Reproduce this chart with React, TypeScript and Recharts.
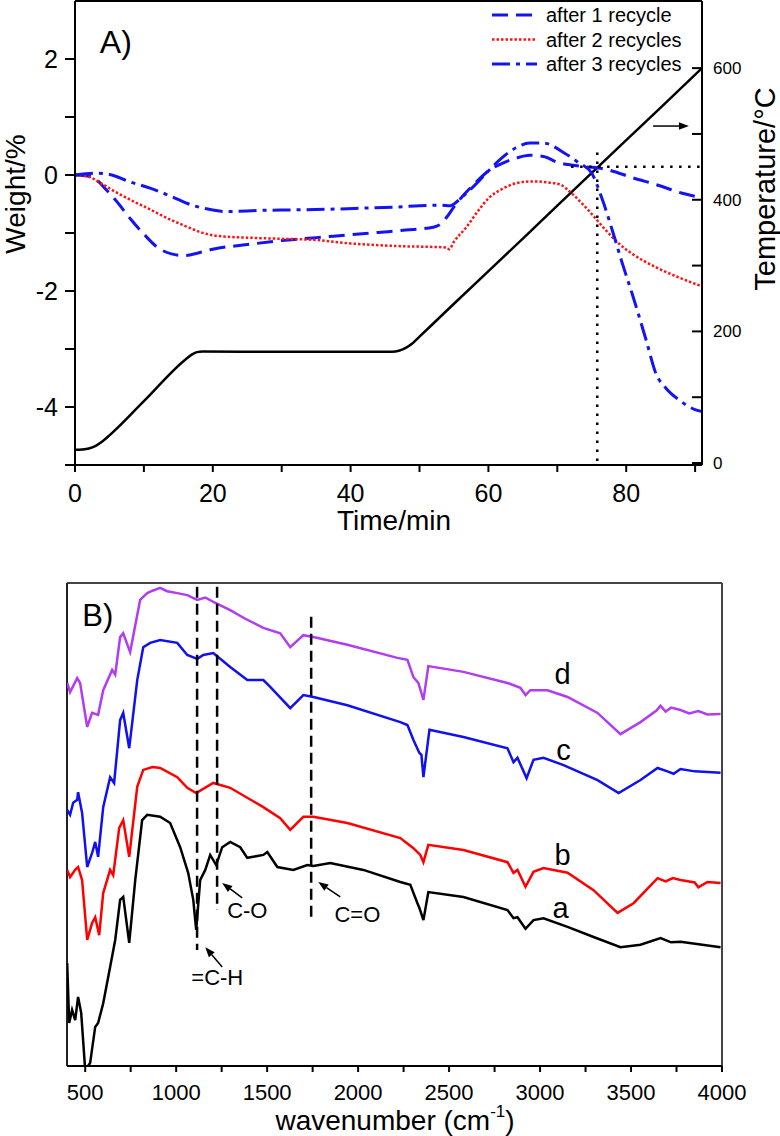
import React from 'react';
import { LineChart, Line, XAxis, YAxis, ReferenceLine, ReferenceDot, Legend, Label } from 'recharts';

const FONT = '"Liberation Sans", Arial, Helvetica, sans-serif';

// ---------------- Panel A data ----------------
const tempTime = [0, 1, 2, 3, 4, 5, 10, 16, 17, 17.7, 18.5, 30, 46, 47, 48, 49, 50, 55, 65, 75, 85, 91];
const tempValue = [20, 20.5, 22, 26, 33, 42, 94, 157, 165, 168.5, 169.5, 169, 169, 170.5, 175, 182, 192, 242, 341, 441, 540, 600];

const r1Time = [0, 2, 3, 4.5, 6, 8, 10, 12, 14, 16, 18, 20, 25, 30, 35, 40, 44, 48, 52, 53, 54, 55, 56, 58, 60, 62, 64, 66, 68, 70, 73.6, 77, 81, 85, 88, 91];
const r1Weight = [0, -0.02, -0.07, -0.25, -0.45, -0.75, -1.02, -1.25, -1.36, -1.39, -1.34, -1.28, -1.2, -1.13, -1.08, -1.03, -0.99, -0.95, -0.9, -0.85, -0.72, -0.55, -0.4, -0.15, 0.07, 0.2, 0.29, 0.34, 0.32, 0.22, 0.15, 0.1, -0.05, -0.19, -0.31, -0.39];

const r2Time = [0, 2, 3.6, 6, 8.4, 11, 13.3, 16, 18.1, 20.6, 25, 30, 35, 40, 44, 48, 52, 53.9, 54.3, 55, 56.8, 58.5, 60.1, 62, 63.5, 65, 66.7, 68, 70.3, 72.2, 74.6, 77.1, 79, 80.9, 84.3, 87.7, 91];
const r2Weight = [0, -0.03, -0.13, -0.3, -0.45, -0.6, -0.74, -0.88, -0.98, -1.05, -1.08, -1.1, -1.12, -1.18, -1.21, -1.23, -1.24, -1.25, -1.28, -1.15, -0.9, -0.62, -0.39, -0.24, -0.16, -0.12, -0.11, -0.12, -0.16, -0.33, -0.62, -0.96, -1.19, -1.36, -1.59, -1.77, -1.92];

const r3Time = [0, 1.5, 3, 5, 8, 11, 14, 17, 19, 22, 27, 32, 37, 42, 47, 50, 53, 54.5, 55, 56, 58, 60, 62, 64, 66, 68, 71, 73, 75, 76.5, 78, 79.4, 81, 82.9, 84.3, 85.8, 87.7, 90.1, 91];
const r3Weight = [0, 0.02, 0.03, 0.01, -0.12, -0.23, -0.37, -0.52, -0.58, -0.63, -0.61, -0.6, -0.59, -0.57, -0.55, -0.53, -0.52, -0.53, -0.5, -0.4, -0.18, 0.07, 0.3, 0.47, 0.55, 0.55, 0.38, 0.22, 0.03, -0.41, -0.96, -1.51, -2.1, -2.85, -3.42, -3.68, -3.88, -4.05, -4.08];

const timeTicks = [0, 10, 20, 30, 40, 50, 60, 70, 80, 90];
const weightTicks = [-5, -4, -3, -2, -1, 0, 1, 2];
const tempTicks = [0, 100, 200, 300, 400, 500, 600];
const legendLabels = ['after 1 recycle', 'after 2 recycles', 'after 3 recycles'];

// ---------------- Panel B data ----------------
const wnD = [401, 417, 456, 472, 511, 538, 571, 599, 648, 665, 692, 709, 747, 802, 841, 870, 912, 950, 1006, 1061, 1116, 1160, 1204, 1297, 1380, 1479, 1572, 1627, 1699, 1754, 1941, 2216, 2271, 2304, 2331, 2359, 2386, 2579, 2821, 2892, 2920, 2947, 3041, 3151, 3316, 3442, 3552, 3640, 3662, 3690, 3720, 3772, 3820, 3870, 3920, 3992];
const absD = [79.3, 77.4, 80.3, 79.3, 70.2, 73.1, 72.7, 77.8, 82.0, 81.0, 88.8, 89.6, 85.7, 96.5, 97.9, 98.4, 99.0, 98.3, 97.9, 97.5, 96.5, 97.0, 96.1, 94.4, 92.6, 90.7, 89.6, 86.7, 89.2, 88.8, 87.2, 84.5, 84.1, 80.5, 79.3, 75.8, 82.8, 81.6, 79.3, 78.3, 76.8, 77.8, 77.8, 76.4, 73.1, 68.7, 71.2, 73.6, 74.6, 73.4, 74.2, 73.7, 73.0, 73.5, 72.8, 72.9];

const wnC = [401, 417, 434, 456, 461, 483, 511, 538, 555, 571, 599, 637, 659, 692, 709, 742, 786, 819, 857, 912, 1006, 1061, 1116, 1149, 1204, 1297, 1391, 1479, 1517, 1627, 1699, 1754, 1941, 2232, 2271, 2304, 2337, 2348, 2359, 2392, 2579, 2821, 2854, 2876, 2926, 2964, 3019, 3129, 3316, 3432, 3552, 3646, 3700, 3734, 3772, 3850, 3992];
const absC = [53.0, 52.0, 54.5, 55.1, 56.7, 52.4, 41.2, 44.1, 46.4, 43.3, 53.6, 59.8, 58.6, 71.6, 73.1, 65.8, 79.9, 86.7, 87.6, 88.2, 87.6, 85.1, 84.3, 85.1, 85.5, 82.6, 79.9, 79.9, 78.5, 74.1, 76.8, 76.4, 74.7, 71.2, 70.6, 67.5, 64.8, 64.4, 59.8, 69.6, 68.1, 65.8, 62.9, 63.8, 59.6, 63.4, 63.8, 62.3, 59.2, 56.5, 59.2, 61.7, 61.0, 60.5, 61.5, 61.0, 60.7];

const wnB = [401, 417, 445, 461, 483, 511, 538, 555, 577, 599, 637, 654, 687, 709, 742, 786, 819, 870, 912, 1006, 1061, 1110, 1204, 1297, 1479, 1572, 1627, 1699, 1754, 1941, 2232, 2304, 2342, 2359, 2386, 2579, 2821, 2854, 2876, 2920, 2964, 3019, 3151, 3294, 3426, 3514, 3646, 3690, 3730, 3772, 3850, 3870, 3920, 3992];
const absB = [40.6, 39.1, 40.6, 41.2, 38.5, 26.1, 29.6, 30.8, 27.1, 35.8, 40.6, 39.5, 49.3, 50.9, 43.3, 57.8, 61.3, 61.9, 61.7, 59.8, 57.6, 56.5, 58.6, 57.6, 53.6, 51.3, 48.9, 51.6, 51.6, 50.3, 47.2, 45.1, 43.7, 42.2, 45.8, 44.7, 42.2, 40.0, 40.6, 37.1, 40.2, 41.0, 40.0, 36.4, 31.7, 33.7, 38.9, 38.2, 38.9, 38.5, 38.0, 37.0, 38.1, 37.9];

const wnA = [401, 412, 428, 445, 461, 478, 500, 527, 555, 571, 599, 637, 665, 692, 709, 742, 775, 813, 841, 912, 967, 1022, 1066, 1094, 1110, 1132, 1160, 1187, 1220, 1253, 1297, 1352, 1391, 1479, 1501, 1556, 1644, 1721, 1754, 1847, 2029, 2232, 2287, 2326, 2337, 2359, 2386, 2579, 2821, 2854, 2876, 2920, 2964, 3019, 3151, 3294, 3442, 3552, 3662, 3720, 3772, 3992];
const absA = [21.3, 8.9, 11.6, 9.5, 14.3, 11.0, -0.8, 0.6, 8.1, 8.9, 13.0, 20.5, 26.1, 34.4, 35.0, 25.5, 38.5, 50.9, 52.0, 51.6, 50.3, 45.3, 40.0, 34.4, 28.2, 38.5, 40.6, 43.7, 41.6, 45.3, 46.4, 45.3, 43.1, 43.7, 44.3, 41.2, 40.6, 41.6, 41.4, 42.0, 40.6, 38.1, 37.5, 33.7, 32.7, 30.2, 36.0, 35.0, 32.3, 30.6, 30.8, 28.4, 30.2, 30.6, 28.8, 26.7, 24.6, 25.1, 26.5, 25.6, 25.7, 24.6];

const wnTicks = [500, 750, 1000, 1250, 1500, 1750, 2000, 2250, 2500, 2750, 3000, 3250, 3500, 3750, 4000];
const spectrumLabels = ['a', 'b', 'c', 'd'];

// ---------------- helpers ----------------
const zip = (xs: number[], ys: number[], kx: string, ky: string) =>
  xs.map((x, i) => ({ [kx]: x, [ky]: ys[i] }));

const BLUE = '#1414F2';
const RED = '#FF1414';

const seriesA = [
  { label: legendLabels[0], data: zip(r1Time, r1Weight, 't', 'w'), color: BLUE, dash: '16 8', width: 3 },
  { label: legendLabels[1], data: zip(r2Time, r2Weight, 't', 'w'), color: RED, dash: '2.5 2', width: 2.5 },
  { label: legendLabels[2], data: zip(r3Time, r3Weight, 't', 'w'), color: BLUE, dash: '18 6 4 6', width: 3 },
];
const tempData = zip(tempTime, tempValue, 't', 'T');

const spectra = [
  { label: spectrumLabels[0], data: zip(wnA, absA, 'wn', 'v'), color: '#000000' },
  { label: spectrumLabels[1], data: zip(wnB, absB, 'wn', 'v'), color: '#FF0000' },
  { label: spectrumLabels[2], data: zip(wnC, absC, 'wn', 'v'), color: '#1010F0' },
  { label: spectrumLabels[3], data: zip(wnD, absD, 'wn', 'v'), color: '#B23CF0' },
];

const textShape = (txt: string, size: number, anchor: string = 'start') => (p: any) => (
  <text x={p.cx} y={p.cy} fontSize={size} textAnchor={anchor} fontFamily={FONT} fill="#000">{txt}</text>
);

const arrowShape = (color: string, width: number) => (p: any) => {
  const { x1, y1, x2, y2 } = p;
  const dx = x2 - x1;
  const dy = y2 - y1;
  const len = Math.sqrt(dx * dx + dy * dy) || 1;
  const ux = dx / len;
  const uy = dy / len;
  const hl = 10;
  const hw = 3.8;
  const bx = x2 - ux * hl;
  const by = y2 - uy * hl;
  const pts = `${x2},${y2} ${bx - uy * hw},${by + ux * hw} ${bx + uy * hw},${by - ux * hw}`;
  return (
    <g>
      <line x1={x1} y1={y1} x2={bx} y2={by} stroke={color} strokeWidth={width} />
      <polygon points={pts} fill={color} />
    </g>
  );
};

const renderLegend = () => (
  <svg width={260} height={78} style={{ display: 'block', overflow: 'visible' }}>
    {seriesA.map((s, i) => {
      const cy = 14 + i * 24.5;
      return (
        <g key={s.label}>
          <line x1={7} x2={52} y1={cy} y2={cy} stroke={s.color} strokeWidth={s.width} strokeDasharray={s.dash} />
          <text x={61} y={cy + 7} fontSize={20} fontFamily={FONT} fill="#000">{s.label}</text>
        </g>
      );
    })}
  </svg>
);

const axisStroke = { stroke: '#000', strokeWidth: 2 };

export default function App() {
  return (
    <div style={{ position: 'absolute', left: 0, top: 0, width: 780, height: 1136, background: '#fff', fontFamily: FONT }}>
      {/* Panel A */}
      <div style={{ position: 'absolute', left: 0, top: 0 }}>
        <LineChart width={780} height={545} margin={{ top: 1, right: 8, bottom: 10, left: 15 }}>
          <XAxis
            dataKey="t"
            type="number"
            domain={[0, 91]}
            ticks={timeTicks}
            interval={0}
            allowDataOverflow
            tickFormatter={(v: number) => (v % 20 === 0 ? String(v) : '')}
            tick={{ fontSize: 25, fill: '#000', fontFamily: FONT }}
            tickSize={7}
            tickMargin={12}
            height={70}
            axisLine={axisStroke}
            tickLine={axisStroke}
          >
            <Label
              content={() => (
                <text x={394} y={530} textAnchor="middle" fontSize={28} fontFamily={FONT} fill="#000">Time/min</text>
              )}
            />
          </XAxis>
          <YAxis
            yAxisId="left"
            type="number"
            domain={[-5, 3]}
            ticks={weightTicks}
            interval={0}
            allowDataOverflow
            tickFormatter={(v: number) => (v % 2 === 0 ? String(v) : '')}
            tick={{ fontSize: 25, fill: '#000', fontFamily: FONT }}
            tickSize={10}
            tickMargin={7}
            width={60}
            axisLine={axisStroke}
            tickLine={axisStroke}
          >
            <Label
              content={() => (
                <text x={25} y={194} transform="rotate(-90 25 194)" textAnchor="middle" fontSize={28} fontFamily={FONT} fill="#000">Weight/%</text>
              )}
            />
          </YAxis>
          <YAxis
            yAxisId="right"
            orientation="right"
            type="number"
            domain={[-3, 702]}
            ticks={tempTicks}
            interval={0}
            allowDataOverflow
            tickFormatter={(v: number) => (v % 200 === 0 ? String(v) : '')}
            tick={{ fontSize: 17, fill: '#000', fontFamily: FONT }}
            tickSize={-10}
            tickMargin={21}
            width={70}
            axisLine={axisStroke}
            tickLine={axisStroke}
          >
            <Label
              content={() => (
                <text x={775} y={189} transform="rotate(-90 775 189)" textAnchor="middle" fontSize={29} fontFamily={FONT} fill="#000">Temperature/°C</text>
              )}
            />
          </YAxis>
          <ReferenceLine yAxisId="left" y={3} stroke="#000" strokeWidth={2} />
          <Legend
            layout="vertical"
            align="center"
            verticalAlign="middle"
            wrapperStyle={{ position: 'absolute', left: 485, top: 1, width: 260, height: 78 }}
            content={renderLegend}
          />
          <Line
            yAxisId="right"
            data={tempData}
            dataKey="T"
            type="monotone"
            stroke="#000"
            strokeWidth={2.5}
            dot={false}
            isAnimationActive={false}
            legendType="none"
          />
          {seriesA.map((s) => (
            <Line
              key={s.label}
              yAxisId="left"
              data={s.data}
              dataKey="w"
              name={s.label}
              type="monotone"
              stroke={s.color}
              strokeWidth={s.width}
              strokeDasharray={s.dash}
              dot={false}
              isAnimationActive={false}
            />
          ))}
          <ReferenceLine
            yAxisId="right"
            segment={[{ x: 75.8, y: 3 }, { x: 75.8, y: 480 }]}
            stroke="#000"
            strokeWidth={2.5}
            strokeDasharray="2.5 6.5"
          />
          <ReferenceLine
            yAxisId="right"
            segment={[{ x: 72, y: 450 }, { x: 91, y: 450 }]}
            stroke="#000"
            strokeWidth={2.5}
            strokeDasharray="2.5 6.5"
          />
          <ReferenceLine
            yAxisId="right"
            segment={[{ x: 83.9, y: 512 }, { x: 89.1, y: 512 }]}
            shape={arrowShape('#000', 1.5)}
          />
          <ReferenceDot yAxisId="left" x={3.6} y={2.1} r={0} shape={textShape('A)', 32)} />
        </LineChart>
      </div>

      {/* Panel B */}
      <div style={{ position: 'absolute', left: 0, top: 560 }}>
        <LineChart width={780} height={576} margin={{ top: 23, right: 58, bottom: 10, left: 67 }}>
          <XAxis
            dataKey="wn"
            type="number"
            domain={[400, 4000]}
            ticks={wnTicks}
            interval={0}
            allowDataOverflow
            tickFormatter={(v: number) => (v % 500 === 0 ? String(v) : '')}
            tick={{ fontSize: 22, fill: '#000', fontFamily: FONT }}
            tickSize={6}
            tickMargin={12}
            height={60}
            axisLine={axisStroke}
            tickLine={axisStroke}
          >
            <Label
              content={() => (
                <text x={395} y={570} textAnchor="middle" fontSize={28} fontFamily={FONT} fill="#000">
                  wavenumber (cm
                  <tspan dy={-13} fontSize={17}>-1</tspan>
                  <tspan dy={13}>)</tspan>
                </text>
              )}
            />
          </XAxis>
          <YAxis type="number" domain={[0, 100]} allowDataOverflow hide />
          <ReferenceLine y={100} stroke="#444" strokeWidth={2} />
          <ReferenceLine x={400} stroke="#222" strokeWidth={2} />
          <ReferenceLine x={4000} stroke="#444" strokeWidth={2} />
          {spectra.map((s) => (
            <Line
              key={s.label}
              data={s.data}
              dataKey="v"
              type="linear"
              stroke={s.color}
              strokeWidth={2.5}
              dot={false}
              isAnimationActive={false}
            />
          ))}
          <ReferenceLine segment={[{ x: 1115, y: 99.2 }, { x: 1115, y: 24.0 }]} stroke="#000" strokeWidth={2.5} strokeDasharray="11 6" />
          <ReferenceLine segment={[{ x: 1225, y: 99.2 }, { x: 1225, y: 32.3 }]} stroke="#000" strokeWidth={2.5} strokeDasharray="11 6" />
          <ReferenceLine segment={[{ x: 1742, y: 93 }, { x: 1742, y: 30.8 }]} stroke="#000" strokeWidth={2.5} strokeDasharray="11 6" />
          <ReferenceLine segment={[{ x: 1253, y: 20.5 }, { x: 1160, y: 24.6 }]} shape={arrowShape('#000', 1.5)} />
          <ReferenceLine segment={[{ x: 1363, y: 34.8 }, { x: 1253, y: 37.9 }]} shape={arrowShape('#000', 1.5)} />
          <ReferenceLine segment={[{ x: 1902, y: 35.0 }, { x: 1781, y: 38.1 }]} shape={arrowShape('#000', 1.5)} />
          <ReferenceDot x={1226} y={16.8} r={0} shape={textShape('=C-H', 22, 'middle')} />
          <ReferenceDot x={1391} y={30.6} r={0} shape={textShape('C-O', 22, 'middle')} />
          <ReferenceDot x={1996} y={29.8} r={0} shape={textShape('C=O', 22, 'middle')} />
          <ReferenceDot x={3124} y={79.1} r={0} shape={textShape('d', 29, 'middle')} />
          <ReferenceDot x={3129} y={63.4} r={0} shape={textShape('c', 29, 'middle')} />
          <ReferenceDot x={3124} y={41.6} r={0} shape={textShape('b', 29, 'middle')} />
          <ReferenceDot x={3113} y={30.6} r={0} shape={textShape('a', 29, 'middle')} />
          <ReferenceDot x={484} y={91.1} r={0} shape={textShape('B)', 31)} />
        </LineChart>
      </div>
    </div>
  );
}
